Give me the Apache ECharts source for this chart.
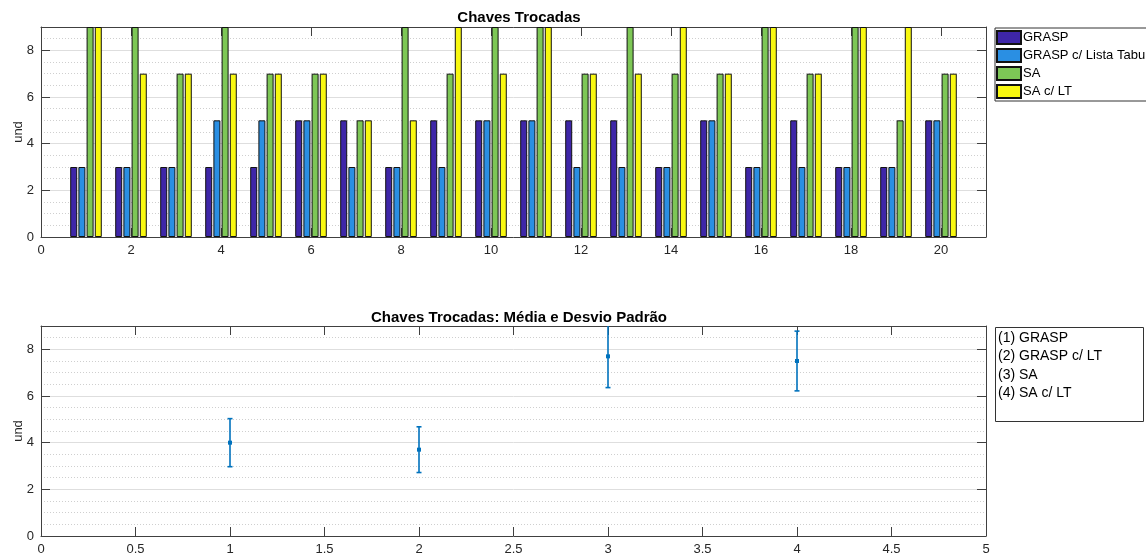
<!DOCTYPE html>
<html>
<head>
<meta charset="utf-8">
<script src="https://cdn.jsdelivr.net/npm/echarts@6/dist/echarts.min.js"></script>
<style>
  html, body { margin: 0; padding: 0; background: #fff; }
  #chart { width: 1146px; height: 560px; }
</style>
</head>
<body>
<div id="chart"></div>
<script>
// dados
const runs = [1, 2, 3, 4, 5, 6, 7, 8, 9, 10, 11, 12, 13, 14, 15, 16, 17, 18, 19, 20]
const grasp   = [3, 3, 3, 3, 3, 5, 5, 3, 5, 5, 5, 5, 5, 3, 5, 3, 5, 3, 3, 5]
const graspLT = [3, 3, 3, 5, 5, 5, 3, 3, 3, 5, 5, 3, 3, 3, 5, 3, 3, 3, 3, 5]
const sa      = [9, 9, 7, 9, 7, 7, 5, 9, 7, 9, 9, 7, 9, 7, 7, 9, 7, 9, 5, 7]
const saLT    = [9, 7, 7, 7, 7, 7, 5, 5, 9, 7, 9, 7, 7, 9, 7, 9, 7, 9, 9, 7]
const barNames = ['GRASP', 'GRASP c/ Lista Tabu', 'SA', 'SA c/ LT']
const barColors = ['#3e26a8', '#2a8fe3', '#7dc756', '#f8f810']

const methodX = [1, 2, 3, 4]
const methodMean = [4, 3.7, 7.7, 7.5]
const methodStd = [1.03, 0.98, 1.34, 1.28]
const methodLabels = ['(1) GRASP', '(2) GRASP c/ LT', '(3) SA', '(4) SA c/ LT']

const FONT = "'Liberation Sans', Arial, sans-serif"
const AXIS = '#404040'
const TXT = '#262626'

const chart = echarts.init(document.getElementById('chart'), null, { renderer: 'canvas' })

const grids = [
  { left: 41, right: 160, top: 27, height: 210, containLabel: false, outerBoundsMode: 'none' },
  { left: 41, right: 160, top: 326, height: 210, containLabel: false, outerBoundsMode: 'none' }
]

const tickStyle = { show: true, inside: true, length: 9, lineStyle: { color: AXIS } }
const lineStyle = { show: true, onZero: false, lineStyle: { color: AXIS, width: 1 } }
const labelStyle = { color: TXT, fontSize: 13, fontFamily: FONT }

const xAxis = (grid, max, interval, pos, labels) => ({
  type: 'value', gridIndex: grid, min: 0, max: max, interval: interval, position: pos,
  axisLine: lineStyle, axisTick: tickStyle, splitLine: { show: false },
  axisLabel: labels
    ? { ...labelStyle, margin: 7, formatter: v => (v === max && max === 21 ? '' : String(v)) }
    : { show: false }
})

const yMain = grid => ({
  type: 'value', gridIndex: grid, min: 0, max: 9, interval: 2, position: 'left',
  name: 'und', nameLocation: 'middle', nameGap: 16, nameRotate: 90, nameMoveOverlap: false,
  nameTextStyle: { color: TXT, fontSize: 13, fontFamily: FONT },
  axisLine: lineStyle, axisTick: tickStyle,
  axisLabel: { ...labelStyle, margin: 7, formatter: v => (v === 9 ? '' : String(v)) },
  splitLine: { show: true, lineStyle: { color: '#dedede', width: 1 } }
})
const yRight = grid => ({
  type: 'value', gridIndex: grid, min: 0, max: 9, interval: 2, position: 'right',
  axisLine: lineStyle, axisTick: tickStyle, axisLabel: { show: false }, splitLine: { show: false }
})
const yMinor = grid => ({
  type: 'value', gridIndex: grid, min: 0, max: 9, interval: 0.5, position: 'left', z: -1,
  axisLine: { show: false }, axisTick: { show: false }, axisLabel: { show: false },
  splitLine: { show: true, lineStyle: { color: '#cfcfcf', width: 1, type: [1, 2] } }
})

const barSeries = [grasp, graspLT, sa, saLT].map((vals, i) => ({
  name: barNames[i],
  type: 'bar',
  xAxisIndex: 0,
  yAxisIndex: 0,
  barWidth: 7,
  barGap: '17%',
  data: runs.map((r, k) => [r, vals[k]]),
  itemStyle: { color: barColors[i], borderColor: '#111', borderWidth: 1 }
}))

const errSeries = {
  type: 'custom',
  xAxisIndex: 2,
  yAxisIndex: 3,
  clip: true,
  data: methodX.map((x, k) => [x, methodMean[k], methodStd[k]]),
  renderItem: (params, api) => {
    const x = api.value(0), m = api.value(1), s = api.value(2)
    const top = api.coord([x, m + s])
    const bot = api.coord([x, m - s])
    const mid = api.coord([x, m])
    const hw = 2.5
    const st = { stroke: '#0072bd', lineWidth: 1.6 }
    return {
      type: 'group',
      children: [
        { type: 'line', shape: { x1: top[0], y1: top[1], x2: bot[0], y2: bot[1] }, style: st },
        { type: 'line', shape: { x1: top[0] - hw, y1: top[1], x2: top[0] + hw, y2: top[1] }, style: st },
        { type: 'line', shape: { x1: bot[0] - hw, y1: bot[1], x2: bot[0] + hw, y2: bot[1] }, style: st },
        { type: 'rect', shape: { x: mid[0] - 2, y: mid[1] - 2, width: 4, height: 4 }, style: { fill: '#0072bd' } }
      ]
    }
  }
}

const option = {
  animation: false,
  backgroundColor: '#fff',
  textStyle: { fontFamily: FONT },
  title: [
    { text: 'Chaves Trocadas', left: 514, top: 5, textAlign: 'center',
      textStyle: { fontSize: 15, fontWeight: 'bold', color: '#000', fontFamily: FONT } },
    { text: 'Chaves Trocadas: Média e Desvio Padrão', left: 514, top: 305, textAlign: 'center',
      textStyle: { fontSize: 15, fontWeight: 'bold', color: '#000', fontFamily: FONT } }
  ],
  legend: {
    data: barNames,
    orient: 'vertical',
    left: 995, top: 28,
    itemWidth: 24, itemHeight: 13, itemGap: 3,
    padding: [2, 6, 2, 1],
    borderColor: '#333', borderWidth: 1,
    backgroundColor: '#fff',
    icon: 'rect',
    textStyle: { fontSize: 13, color: '#000', fontFamily: FONT, padding: [0, 0, 0, -3] }
  },
  grid: grids,
  xAxis: [
    xAxis(0, 21, 2, 'bottom', true),
    xAxis(0, 21, 2, 'top', false),
    xAxis(1, 5, 0.5, 'bottom', true),
    xAxis(1, 5, 0.5, 'top', false)
  ],
  yAxis: [
    yMain(0), yRight(0), yMinor(0),
    yMain(1), yRight(1), yMinor(1)
  ],
  graphic: [
    {
      type: 'rect', left: 995, top: 327,
      shape: { width: 148, height: 94 },
      style: { fill: '#fff', stroke: '#333', lineWidth: 1 }
    },
    {
      type: 'text', left: 998, top: 329,
      style: {
        text: methodLabels.join('\n'),
        font: '14px ' + FONT,
        lineHeight: 18.4,
        fill: '#000'
      }
    }
  ],
  series: [...barSeries, errSeries]
}

chart.setOption(option)
</script>
</body>
</html>
